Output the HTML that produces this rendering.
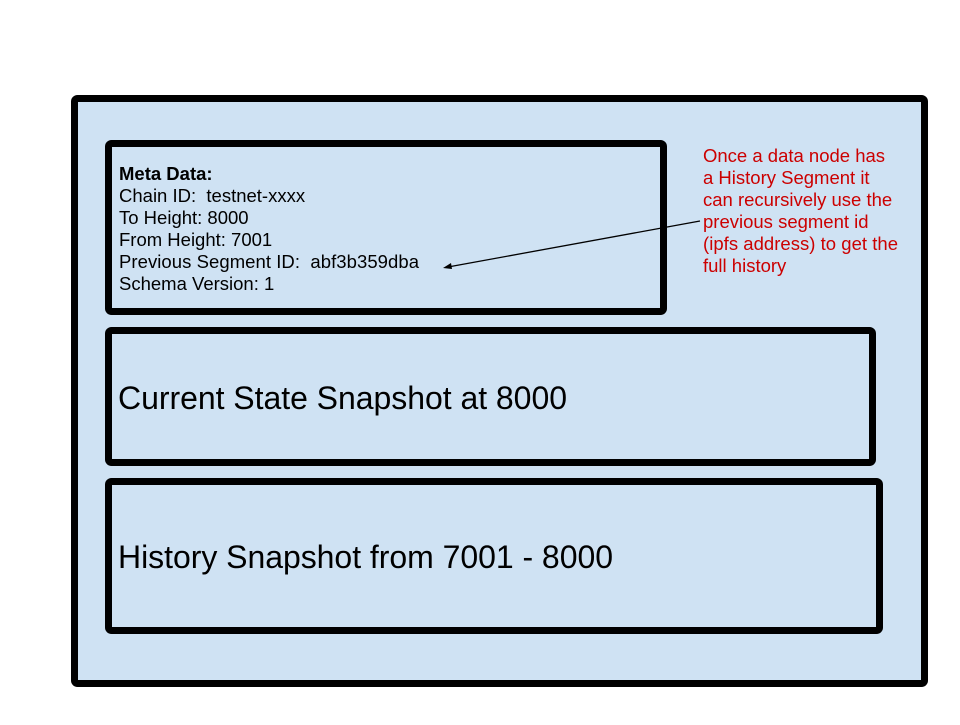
<!DOCTYPE html>
<html><head><style>body{margin:0;background:#fff}</style></head><body>
<svg width="960" height="720" viewBox="0 0 960 720" xmlns="http://www.w3.org/2000/svg" font-family="Liberation Sans, Arial, sans-serif">
<rect x="0" y="0" width="960" height="720" fill="#fff"/>
<rect x="74.5" y="98.5" width="850" height="585" rx="3" fill="#cfe2f3" stroke="#000" stroke-width="7"/>
<rect x="108.5" y="143.5" width="555" height="168" rx="3" fill="#cfe2f3" stroke="#000" stroke-width="7"/>
<rect x="108.5" y="330.5" width="764" height="132" rx="3" fill="#cfe2f3" stroke="#000" stroke-width="7"/>
<rect x="108.5" y="481.5" width="771" height="149" rx="3" fill="#cfe2f3" stroke="#000" stroke-width="7"/>
<g font-size="18.5" fill="#000">
<text x="119" y="180" font-weight="bold">Meta Data:</text>
<text x="119" y="202" xml:space="preserve">Chain ID:  testnet-xxxx</text>
<text x="119" y="224">To Height: 8000</text>
<text x="119" y="246">From Height: 7001</text>
<text x="119" y="268" xml:space="preserve" textLength="300">Previous Segment ID:  abf3b359dba</text>
<text x="119" y="290">Schema Version: 1</text>
</g>
<text x="118" y="409" font-size="32" textLength="449">Current State Snapshot at 8000</text>
<text x="118" y="568" font-size="32" textLength="495">History Snapshot from 7001 - 8000</text>
<g font-size="18.5" fill="#cc0000">
<text x="703" y="162">Once a data node has</text>
<text x="703" y="184">a History Segment it</text>
<text x="703" y="206">can recursively use the</text>
<text x="703" y="228">previous segment id</text>
<text x="703" y="250" textLength="195">(ipfs address) to get the</text>
<text x="703" y="272">full history</text>
</g>
<line x1="700" y1="221" x2="448" y2="267" stroke="#000" stroke-width="1.3"/>
<polygon points="443,268 451,263 452,269" fill="#000"/>
</svg>
</body></html>
